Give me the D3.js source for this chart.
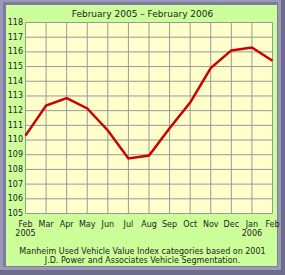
<!DOCTYPE html>
<html>
<head>
<meta charset="utf-8">
<script src="https://cdn.jsdelivr.net/npm/d3@7"></script>
<style>
  body { margin: 0; background: #fff; }
  text { font-family: "DejaVu Sans", Verdana, sans-serif; fill: #222; }
</style>
</head>
<body>
<div class="chart"></div>
<script>
const months = ['Feb', 'Mar', 'Apr', 'May', 'Jun', 'Jul', 'Aug', 'Sep', 'Oct', 'Nov', 'Dec', 'Jan', 'Feb '];
const yearLabels = ['2005', '', '', '', '', '', '', '', '', '', '', '2006', ''];
const values = [110.3, 112.35, 112.85, 112.15, 110.65, 108.75, 108.95, 110.8, 112.55, 114.9, 116.1, 116.3, 115.4];
const yTicks = [105, 106, 107, 108, 109, 110, 111, 112, 113, 114, 115, 116, 117, 118];

const W = 285, H = 275;
const plot = {left: 25.5, right: 272.5, top: 22.5, bottom: 213.5};

const svg = d3.select('.chart').append('svg')
  .attr('width', W)
  .attr('height', H);

// frame ---------------------------------------------
svg.append('rect').attr('width', W).attr('height', H).attr('fill', '#6e6e8c');
svg.append('rect').attr('x', 0).attr('y', 0).attr('width', W - 4).attr('height', H - 5).attr('fill', '#9a9ab8');
svg.append('rect').attr('x', 3).attr('y', 2).attr('width', W - 10).attr('height', H - 10).attr('fill', '#7c7c9c');
svg.append('rect').attr('x', 6).attr('y', 5).attr('width', 271).attr('height', 261).attr('fill', '#ccff99');

// scales --------------------------------------------
const x = d3.scalePoint()
  .domain(d3.range(months.length))
  .range([plot.left, plot.right]);

const y = d3.scaleLinear()
  .domain([105, 118])
  .range([plot.bottom, plot.top]);

svg.append('rect')
  .attr('x', plot.left).attr('y', plot.top)
  .attr('width', plot.right - plot.left).attr('height', plot.bottom - plot.top)
  .attr('fill', '#ffffcc');

// grid
svg.append('g').selectAll('line.v')
  .data(d3.range(months.length))
  .join('line')
  .attr('x1', d => x(d)).attr('x2', d => x(d))
  .attr('y1', plot.top).attr('y2', plot.bottom)
  .attr('stroke', '#999').attr('stroke-width', 1);

svg.append('g').selectAll('line.h')
  .data(yTicks)
  .join('line')
  .attr('x1', plot.left).attr('x2', plot.right)
  .attr('y1', d => y(d)).attr('y2', d => y(d))
  .attr('stroke', '#999').attr('stroke-width', 1);

// y labels
svg.append('g').selectAll('text')
  .data(yTicks)
  .join('text')
  .attr('x', 23)
  .attr('y', d => y(d))
  .attr('dy', '0.3em')
  .attr('text-anchor', 'end')
  .attr('font-size', 8)
  .text(d => d);

// x labels
svg.append('g').selectAll('text')
  .data(months)
  .join('text')
  .attr('x', (d, i) => x(i))
  .attr('y', 227)
  .attr('text-anchor', 'middle')
  .attr('font-size', 8)
  .text(d => d.trim());

svg.append('g').selectAll('text')
  .data(yearLabels)
  .join('text')
  .attr('x', (d, i) => x(i))
  .attr('y', 236)
  .attr('text-anchor', 'middle')
  .attr('font-size', 8)
  .text(d => d);

// line
const line = d3.line()
  .x((d, i) => x(i))
  .y(d => y(d));

svg.append('path')
  .datum(values)
  .attr('d', line)
  .attr('fill', 'none')
  .attr('stroke', '#cc0000')
  .attr('stroke-width', 2.5)
  .attr('stroke-linejoin', 'miter');

// titles
svg.append('text')
  .attr('x', 142.5).attr('y', 17)
  .attr('text-anchor', 'middle')
  .attr('font-size', 9)
  .text('February 2005 \u2013 February 2006');

svg.append('text')
  .attr('x', 142.5).attr('y', 254)
  .attr('text-anchor', 'middle')
  .attr('font-size', 8)
  .text('Manheim Used Vehicle Value Index categories based on 2001');

svg.append('text')
  .attr('x', 142.5).attr('y', 263)
  .attr('text-anchor', 'middle')
  .attr('font-size', 8)
  .text('J.D. Power and Associates Vehicle Segmentation.');
</script>
</body>
</html>
